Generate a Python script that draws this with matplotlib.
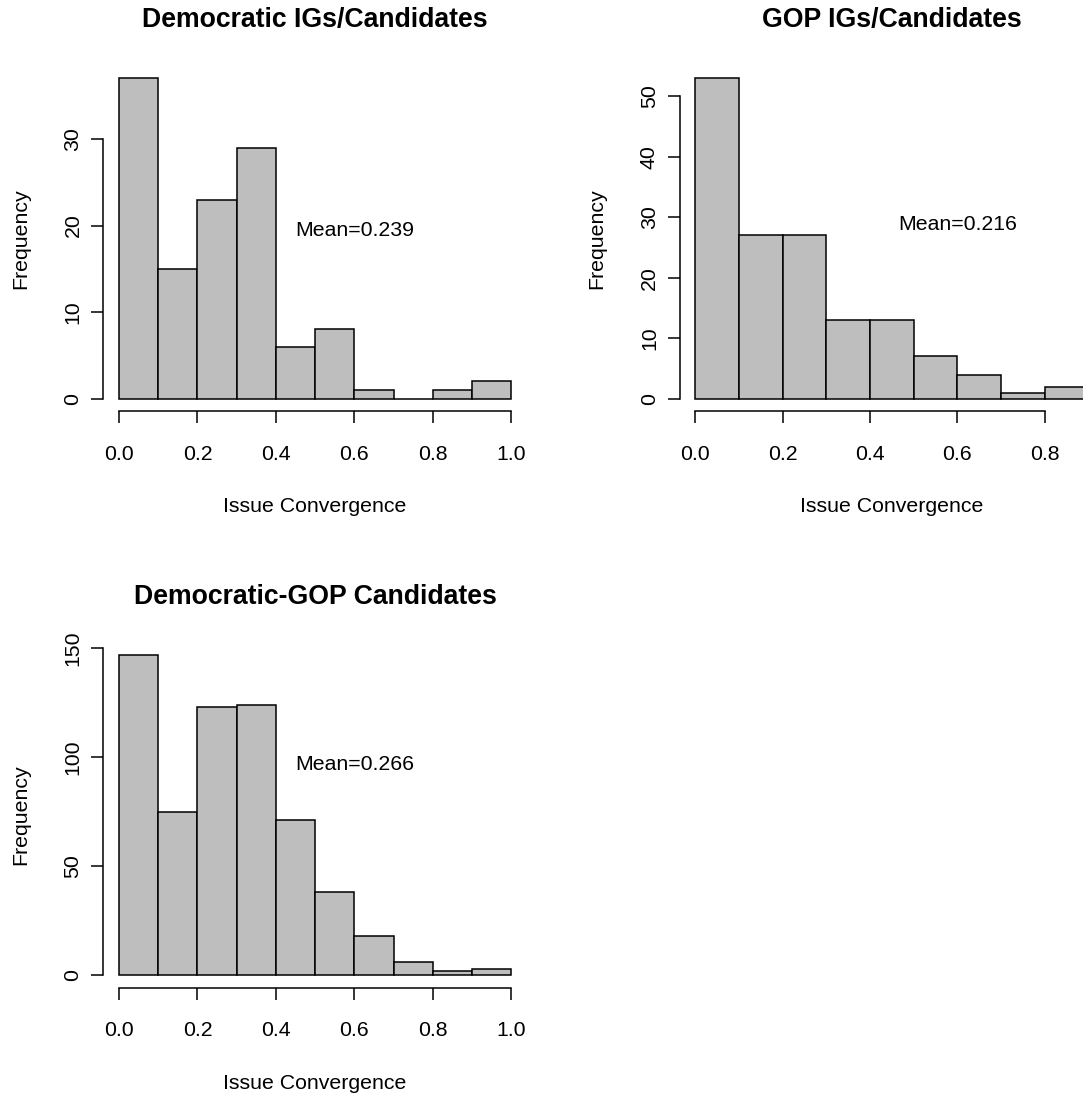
import matplotlib.pyplot as plt
import numpy as np

plt.rcParams["font.family"] = ["Liberation Sans", "DejaVu Sans"]

# bin counts (bins of width 0.1 starting at 0)
dem_counts = [37, 15, 23, 29, 6, 8, 1, 0, 1, 2]
gop_counts = [53, 27, 27, 13, 13, 7, 4, 1, 2]
demgop_counts = [147, 75, 123, 124, 71, 38, 18, 6, 2, 3]

titles = ["Democratic IGs/Candidates", "GOP IGs/Candidates", "Democratic-GOP Candidates"]
means = ["Mean=0.239", "Mean=0.216", "Mean=0.266"]
mean_y = [19.4, 28.8, 96.5]
y_ticks = [[0, 10, 20, 30], [0, 10, 20, 30, 40, 50], [0, 50, 100, 150]]
x_ticks = [[0.0, 0.2, 0.4, 0.6, 0.8, 1.0], [0.0, 0.2, 0.4, 0.6, 0.8],
           [0.0, 0.2, 0.4, 0.6, 0.8, 1.0]]

W, H = 1083, 1097
FS = 15.3


def r_hist(fig, rect_px, counts, title, mean_txt, my, yt, xt):
    """Histogram drawn in the look of R's base hist()."""
    left, top, w, h = rect_px
    ax = fig.add_axes([left / W, 1 - (top + h) / H, w / W, h / H])
    edges = np.round(np.arange(len(counts) + 1) * 0.1, 2)
    ax.bar(edges[:-1], counts, width=0.1, align="edge", color="#BEBEBE",
           edgecolor="black", linewidth=1.1)
    xr = edges[-1] - edges[0]
    ymax = max(counts)
    ax.set_xlim(edges[0] - 0.04 * xr, edges[-1] + 0.04 * xr)
    ax.set_ylim(-0.04 * ymax, 1.04 * ymax)

    for s in ["top", "right"]:
        ax.spines[s].set_visible(False)
    ax.spines["left"].set_bounds(yt[0], yt[-1])
    ax.spines["bottom"].set_bounds(xt[0], xt[-1])
    for s in ["left", "bottom"]:
        ax.spines[s].set_linewidth(1.1)

    ax.set_xticks(xt)
    ax.set_xticklabels([f"{v:.1f}" for v in xt])
    ax.set_yticks(yt)
    ax.set_yticklabels([str(v) for v in yt], rotation=90, va="center")
    ax.tick_params(axis="x", length=8.9, width=1.1, pad=15, labelsize=FS)
    ax.tick_params(axis="y", length=8.9, width=1.1, pad=6, labelsize=FS)

    ax.set_xlabel("Issue Convergence", fontsize=FS)
    ax.xaxis.label.set_va("center")
    ax.xaxis.set_label_coords(0.5, -95.5 / h)
    ax.set_ylabel("Frequency", fontsize=FS)
    ax.yaxis.label.set_va("center")
    ax.yaxis.set_label_coords(-82.5 / w, 0.5)

    ax.text(0.5, 1 + 45.5 / h, title, transform=ax.transAxes, ha="center",
            va="center", fontsize=19.2, fontweight="bold")
    ax.text(0.6, my, mean_txt, ha="center", va="center", fontsize=FS)
    return ax


fig = plt.figure(figsize=(W / 100, H / 100), dpi=100)
rects = [(103.3, 65.5, 423.7, 346), (679.6, 65.5, 424.3, 346), (103.3, 642, 423.7, 346)]
for rect, c, t, m, my, yt, xt in zip(rects, [dem_counts, gop_counts, demgop_counts],
                                      titles, means, mean_y, y_ticks, x_ticks):
    r_hist(fig, rect, c, t, m, my, yt, xt)

fig.savefig("out.png", dpi=100)
